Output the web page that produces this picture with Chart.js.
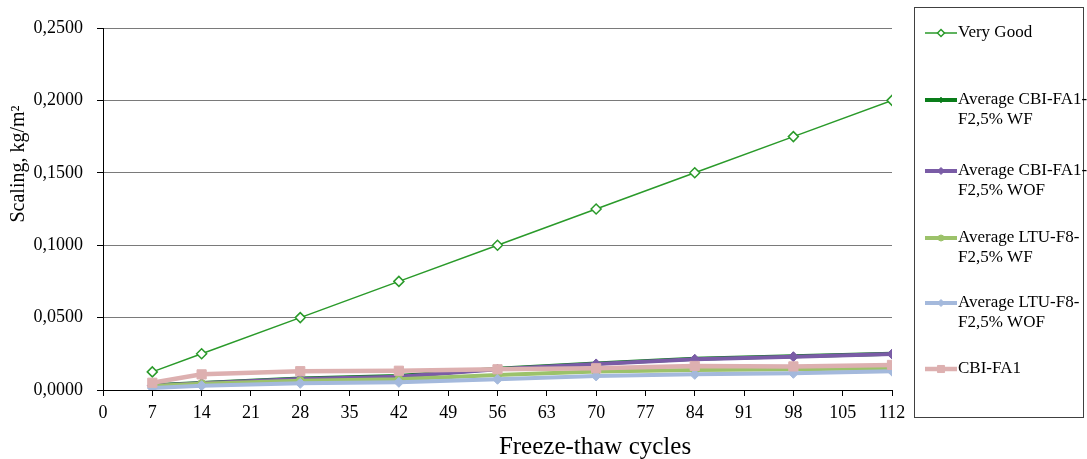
<!DOCTYPE html>
<html>
<head>
<meta charset="utf-8">
<script src="https://cdn.jsdelivr.net/npm/chart.js@4/dist/chart.umd.min.js"></script>
<style>
  html, body { margin: 0; padding: 0; background: #fff; }
  #wrap { width: 1087px; height: 459px; position: relative; }
</style>
</head>
<body>
<div id="wrap"><canvas id="c" width="1087" height="459"></canvas></div>
<script>
// ---- data ----
const cycles = [7, 14, 28, 42, 56, 70, 84, 98, 112];
const veryGood     = [0.0125, 0.025, 0.050, 0.075, 0.100, 0.125, 0.150, 0.175, 0.200];
const cbiFa1WF     = [0.0032, 0.0048, 0.0079, 0.0096, 0.0146, 0.0183, 0.0215, 0.0233, 0.0251];
const cbiFa1WOF    = [0.0030, 0.0046, 0.0076, 0.0092, 0.0143, 0.0180, 0.0212, 0.0230, 0.0248];
const ltuF8WF      = [0.0028, 0.0044, 0.0064, 0.0074, 0.0103, 0.0128, 0.0138, 0.0143, 0.0150];
const ltuF8WOF     = [0.0014, 0.0030, 0.0046, 0.0053, 0.0074, 0.0097, 0.0108, 0.0115, 0.0130];
const cbiFa1       = [0.0050, 0.0108, 0.0130, 0.0133, 0.0143, 0.0150, 0.0166, 0.0163, 0.0173];
const seriesNames  = ['Very Good', 'Average CBI-FA1-\nF2,5% WF', 'Average CBI-FA1-\nF2,5% WOF',
                      'Average LTU-F8-\nF2,5% WF', 'Average LTU-F8-\nF2,5% WOF', 'CBI-FA1'];
const xTitle = 'Freeze-thaw cycles';
const yTitle = 'Scaling, kg/m\u00B2';

const pts = arr => arr.map((v, i) => ({x: cycles[i], y: v}));

const FONT = '"Liberation Serif", "Times New Roman", serif';

const datasets = [
  {label: seriesNames[0], data: pts(veryGood), borderColor: '#2a9a2a', backgroundColor: '#ffffff',
   borderWidth: 1.5, pointStyle: 'rectRot', pointRadius: 5, pointBorderWidth: 1.5, order: 5},
  {label: seriesNames[1], data: pts(cbiFa1WF), borderColor: '#0a7d1a', backgroundColor: '#0a7d1a',
   borderWidth: 4, pointStyle: 'cross', pointRadius: 4, pointBorderWidth: 1.5, order: 4},
  {label: seriesNames[2], data: pts(cbiFa1WOF), borderColor: '#7a5ca6', backgroundColor: '#7a5ca6',
   borderWidth: 4, pointStyle: 'rectRot', pointRadius: 5, pointBorderWidth: 1, order: 3},
  {label: seriesNames[3], data: pts(ltuF8WF), borderColor: '#9cc26a', backgroundColor: '#9cc26a',
   borderWidth: 4, pointStyle: 'circle', pointRadius: 4, pointBorderWidth: 1, order: 2},
  {label: seriesNames[4], data: pts(ltuF8WOF), borderColor: '#a4b9dc', backgroundColor: '#a4b9dc',
   borderWidth: 4, pointStyle: 'rectRot', pointRadius: 5, pointBorderWidth: 1, order: 1},
  {label: seriesNames[5], data: pts(cbiFa1), borderColor: '#ddb0b0', backgroundColor: '#ddb0b0',
   borderWidth: 4.5, pointStyle: 'rect', pointRadius: 6.5, pointBorderWidth: 1, order: 0},
];
datasets.forEach(d => { d.tension = 0; d.pointBorderColor = d.borderColor; d.pointBackgroundColor = d.backgroundColor; });

const decorations = {
  id: 'decorations',
  afterDraw(chart) {
    const ctx = chart.ctx;
    ctx.save();
    // axis titles
    ctx.fillStyle = '#000';
    ctx.font = '25px ' + FONT;
    ctx.textAlign = 'center';
    ctx.textBaseline = 'alphabetic';
    ctx.fillText(xTitle, 595, 454);
    ctx.save();
    ctx.translate(19, 164);
    ctx.rotate(-Math.PI / 2);
    ctx.font = '20px ' + FONT;
    ctx.textBaseline = 'middle';
    ctx.fillText(yTitle, 0, 0);
    ctx.restore();

    // legend box
    ctx.strokeStyle = '#404040';
    ctx.lineWidth = 1;
    ctx.strokeRect(914.5, 7.5, 169, 410);
    const rowY = [33, 100, 171, 238, 303, 369];
    ctx.font = '17px ' + FONT;
    ctx.textAlign = 'left';
    ctx.textBaseline = 'middle';
    chart.data.datasets.forEach((ds, i) => {
      const y = rowY[i];
      ctx.strokeStyle = ds.borderColor;
      ctx.lineWidth = ds.borderWidth;
      ctx.beginPath();
      ctx.moveTo(925, y);
      ctx.lineTo(957, y);
      ctx.stroke();
      ctx.fillStyle = ds.backgroundColor;
      ctx.strokeStyle = ds.borderColor;
      ctx.lineWidth = ds.pointBorderWidth;
      Chart.helpers.drawPoint(ctx, {
        pointStyle: ds.pointStyle, radius: Math.max(3, ds.pointRadius - 1.5), rotation: 0,
        borderWidth: ds.pointBorderWidth
      }, 941, y);
      ctx.fillStyle = '#000';
      ds.label.split('\n').forEach((line, k) => {
        ctx.fillText(line, 958, y + k * 20);
      });
    });
    ctx.restore();
  }
};

new Chart(document.getElementById('c'), {
  type: 'line',
  data: { datasets },
  options: {
    responsive: false,
    animation: false,
    devicePixelRatio: 1,
    layout: { padding: { left: 0, top: 28, right: 195, bottom: 0 } },
    plugins: { legend: { display: false }, tooltip: { enabled: false } },
    scales: {
      x: {
        type: 'linear', min: 0, max: 112,
        afterFit(s) { s.height = 69; },
        border: { color: '#000', width: 1 },
        grid: { drawOnChartArea: false, drawTicks: true, tickLength: 6, tickColor: '#000' },
        ticks: { stepSize: 7, color: '#000', font: { family: FONT, size: 18 }, padding: 6, maxRotation: 0, autoSkip: false }
      },
      y: {
        min: 0, max: 0.25,
        afterFit(s) { s.width = 103; },
        border: { color: '#000', width: 1 },
        grid: { color: '#7a7a7a', lineWidth: 1, tickLength: 6, tickColor: '#000' },
        ticks: { stepSize: 0.05, color: '#000', font: { family: FONT, size: 18 }, padding: 14,
                 callback: v => v.toFixed(4).replace('.', ',') }
      }
    }
  },
  plugins: [decorations]
});
</script>
</body>
</html>
